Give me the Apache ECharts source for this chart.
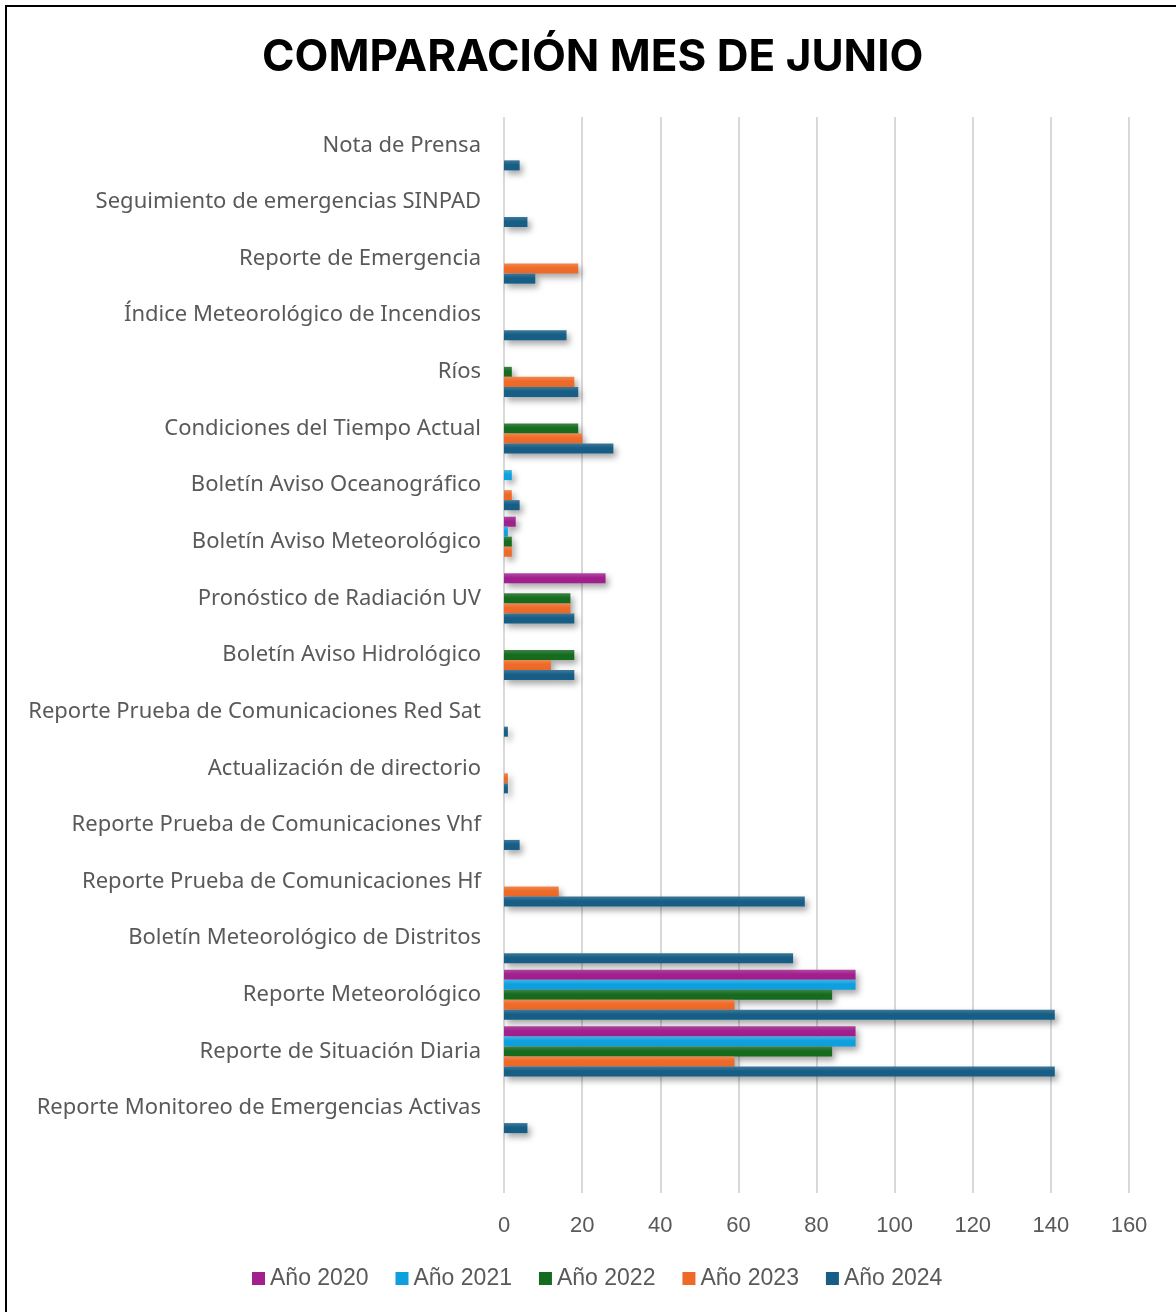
<!DOCTYPE html>
<html>
<head>
<meta charset="utf-8">
<script src="https://cdn.jsdelivr.net/npm/echarts@6/dist/echarts.min.js"></script>
<style>
  html, body { margin: 0; padding: 0; background: #fff; }
  #frame {
    position: absolute; left: 5px; top: 5px; width: 1171px; height: 1307px;
    border-top: 2px solid #000; border-left: 2px solid #000; box-sizing: border-box;
  }
  #chart { position: absolute; left: 0; top: 0; width: 1176px; height: 1312px; }
</style>
</head>
<body>
<div id="frame"></div>
<div id="chart"></div>
<script>
  // categories, top to bottom (last one is an empty slot like the original)
  const categories = [
    'Nota de Prensa',
    'Seguimiento de emergencias SINPAD',
    'Reporte de Emergencia',
    'Índice Meteorológico de Incendios',
    'Ríos',
    'Condiciones del Tiempo Actual',
    'Boletín Aviso Oceanográfico',
    'Boletín Aviso Meteorológico',
    'Pronóstico de Radiación UV',
    'Boletín Aviso Hidrológico',
    'Reporte Prueba de Comunicaciones Red Sat',
    'Actualización de directorio',
    'Reporte Prueba de Comunicaciones Vhf',
    'Reporte Prueba de Comunicaciones Hf',
    'Boletín Meteorológico de Distritos',
    'Reporte Meteorológico',
    'Reporte de Situación Diaria',
    'Reporte Monitoreo de Emergencias Activas',
    ''
  ];

  const y2020 = [null, null, null, null, null, null, null, 3, 26, null, null, null, null, null, null, 90, 90, null, null];
  const y2021 = [null, null, null, null, null, null, 2, 1, null, null, null, null, null, null, null, 90, 90, null, null];
  const y2022 = [null, null, null, null, 2, 19, null, 2, 17, 18, null, null, null, null, null, 84, 84, null, null];
  const y2023 = [null, null, 19, null, 18, 20, 2, 2, 17, 12, null, 1, null, 14, null, 59, 59, null, null];
  const y2024 = [4, 6, 8, 16, 19, 28, 4, null, 18, 18, 1, 1, 4, 77, 74, 141, 141, 6, null];

  const xTicks = [0, 20, 40, 60, 80, 100, 120, 140, 160];

  const seriesNames = ['Año 2020', 'Año 2021', 'Año 2022', 'Año 2023', 'Año 2024'];
  const seriesData = [y2020, y2021, y2022, y2023, y2024];
  const colors = ['#A21F8E', '#0EA0DE', '#166C1E', '#EE6A28', '#165E85'];
  const lightColors = ['#B24AA3', '#3FB4E6', '#3F8348', '#F2864F', '#3F7799'];

  const chart = echarts.init(document.getElementById('chart'));

  const series = seriesNames.map((name, i) => ({
    name: name,
    type: 'bar',
    data: seriesData[i],
    barGap: '0%',
    barCategoryGap: '11.5%',
    itemStyle: {
      color: new echarts.graphic.LinearGradient(0, 0, 0, 1, [
        { offset: 0, color: lightColors[i] },
        { offset: 0.45, color: colors[i] },
        { offset: 1, color: colors[i] }
      ]),
      shadowColor: 'rgba(0,0,0,0.35)',
      shadowBlur: 6,
      shadowOffsetX: 3,
      shadowOffsetY: 4
    }
  }));

  chart.setOption({
    animation: false,
    backgroundColor: 'transparent',
    color: colors,
    title: {
      text: 'COMPARACIÓN MES DE JUNIO',
      left: 257,
      top: 31,
      textStyle: {
        fontFamily: 'Inter',
        fontWeight: 'bold',
        fontSize: 44,
        color: '#000'
      }
    },
    legend: {
      bottom: 17,
      left: 247,
      itemWidth: 13,
      itemHeight: 13,
      itemGap: 27,
      icon: 'rect',
      data: seriesNames.map((n, i) => ({ name: n, itemStyle: { color: colors[i] } })),
      textStyle: {
        fontFamily: 'Liberation Sans',
        fontSize: 23,
        color: '#595959'
      }
    },
    grid: {
      left: 504,
      right: 47,
      top: 117,
      bottom: 119,
      containLabel: false
    },
    xAxis: {
      type: 'value',
      min: xTicks[0],
      max: xTicks[xTicks.length - 1],
      interval: 20,
      axisLine: { show: false },
      axisTick: { show: false },
      splitLine: { show: true, lineStyle: { color: '#D9D9D9', width: 2 } },
      axisLabel: {
        margin: 22,
        fontFamily: 'Liberation Sans',
        fontSize: 22,
        color: '#595959'
      }
    },
    yAxis: {
      type: 'category',
      inverse: true,
      data: categories,
      axisLine: { show: false },
      axisTick: { show: false },
      axisLabel: {
        margin: 23,
        fontFamily: 'Noto Sans',
        fontSize: 22,
        color: '#595959'
      }
    },
    series: series
  });
</script>
</body>
</html>
